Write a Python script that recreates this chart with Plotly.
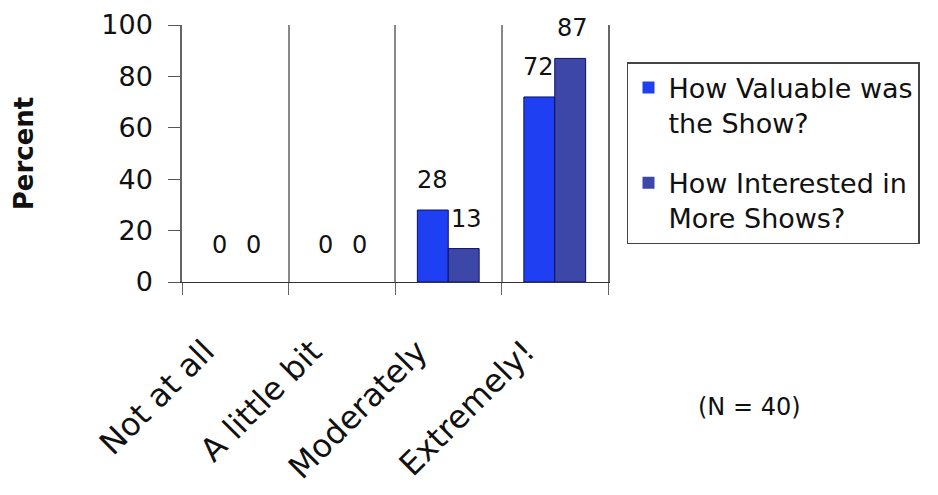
import plotly.graph_objects as go

categories = ["Not at all", "A little bit", "Moderately", "Extremely!"]
valuable = [0, 0, 28, 72]
interested = [0, 0, 13, 87]
series_names = ["How Valuable was<br>the Show?", "How Interested in<br>More Shows?"]
y_ticks = [0, 20, 40, 60, 80, 100]
note = "(N = 40)"

font = "DejaVu Sans, Verdana, sans-serif"

fig = go.Figure()
fig.add_trace(go.Bar(x=categories, y=valuable, name=series_names[0], legendgroup="a",
                     marker=dict(color="#1f3ff2",
                                 line=dict(color="#0a1060", width=[1 if v > 0 else 0 for v in valuable]))))
fig.add_trace(go.Bar(x=categories, y=interested, name=series_names[1], legendgroup="b",
                     marker=dict(color="#3d47a8",
                                 line=dict(color="#0a1060", width=[1 if v > 0 else 0 for v in interested]))))

# value labels above bars
for vals, shift in ((valuable, -16), (interested, 18)):
    for c, v in zip(categories, vals):
        fig.add_annotation(x=c, y=v, text=str(v), showarrow=False, xshift=shift,
                           yshift=30 if v > 0 else 37, font=dict(family=font, size=24, color="#111"))

# rotated category labels
for c in categories:
    fig.add_annotation(x=c, y=-0.185, yref="paper", text=c, showarrow=False, textangle=-45,
                       xanchor="right", yanchor="top", xshift=-10,
                       font=dict(family=font, size=32, color="#111"))

fig.add_annotation(xref="paper", yref="paper", x=1.331, y=-0.486, text=note, showarrow=False,
                   xanchor="center", yanchor="middle",
                   font=dict(family=font, size=24, color="#111"))

fig.update_layout(
    width=938, height=495,
    margin=dict(l=174, r=338, t=17, b=221),
    paper_bgcolor="white", plot_bgcolor="white",
    barmode="group", bargap=0.42, bargroupgap=0,
    showlegend=True,
    legend=dict(x=1.0446, y=0.856, xanchor="left", yanchor="top",
                bordercolor="#444", borderwidth=1.5, bgcolor="white",
                font=dict(family=font, size=27, color="#111"),
                valign="top", tracegroupgap=22),
    xaxis=dict(tickson="boundaries", showgrid=True, gridcolor="#888", gridwidth=1.5,
               range=[-0.5, len(categories) - 0.5],
               ticks="outside", ticklen=12, tickcolor="#666", showline=True, linecolor="#333",
               showticklabels=False, automargin=False),
    yaxis=dict(range=[0, 100], tickvals=y_ticks, showgrid=False, showline=True, mirror=True,
               linecolor="#666", linewidth=1.5, ticks="outside", ticklen=12, tickcolor="#555",
               tickfont=dict(family=font, size=27, color="#111"), zeroline=False, automargin=False,
               ticklabelstandoff=10,
               title=dict(text="<b>Percent</b>", font=dict(family=font, size=26, color="#111"),
                          standoff=60)),
)

fig.write_html("out.html")
